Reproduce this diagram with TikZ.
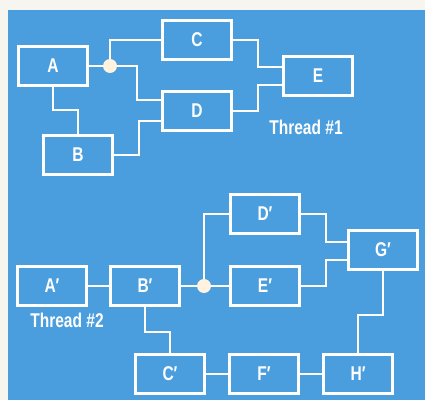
\documentclass[tikz,border=0pt]{standalone}
\usepackage{fontspec}
\usepackage{tikz}
\usetikzlibrary{calc}
\newfontfamily\boxfont[FakeStretch=0.78]{Liberation Sans Bold}
\definecolor{paper}{RGB}{246,245,240}
\definecolor{panel}{RGB}{74,158,222}
\definecolor{dotfill}{RGB}{255,242,222}

\begin{document}
\begin{tikzpicture}[x=0.03cm, y=-0.03cm,
	every node/.style={font=\boxfont\fontsize{17}{19}\selectfont, text=white},
	task/.style={draw=white, line width=1.8pt, minimum width=2.07cm, minimum height=1.17cm, inner sep=0pt},
	link/.style={draw=white, line width=1.7pt},
	fork/.style={circle, fill=dotfill, minimum size=0.42cm, inner sep=0pt}]
	\fill[paper] (0,0) rectangle (425,400);
	\fill[panel] (8,10) rectangle (425,400);
	% thread 1
	\node[task] (A) at (53,66) {A};
	\node[task] (C) at (197,40) {C};
	\node[task] (E) at (318,76) {E};
	\node[task] (D) at (197,111) {D};
	\node[task] (B) at (78,155) {B};
	\node[fork] (f1) at (110,66) {};
	\node (t1) at (306,127) {Thread \#1};
	\draw[link] (A) -- (f1);
	\draw[link] (f1) |- (C);
	\draw[link] (f1) -- ++(27,0) |- ([yshift=0.33cm]D.west);
	\draw[link] (C.east) -- ++(25,0) |- ([yshift=0.27cm]E.west);
	\draw[link] (D.east) -- ++(25,0) |- ([yshift=-0.27cm]E.west);
	\draw[link] (A.south) -- ++(0,23) -| (B.north);
	\draw[link] (B.east) -- ++(25,0) |- ([yshift=-0.3cm]D.west);
	% thread 2
	\node[task] (d2) at (265,214) {D′};
	\node[task] (g2) at (383,250) {G′};
	\node[task] (a2) at (52,286) {A′};
	\node[task] (b2) at (145,286) {B′};
	\node[task] (e2) at (265,286) {E′};
	\node[task] (c2) at (170,374) {C′};
	\node[task] (f2) at (264,374) {F′};
	\node[task] (h2) at (358,374) {H′};
	\node[fork] (k2) at (204,286) {};
	\node (t2) at (67,320) {Thread \#2};
	\draw[link] (a2) -- (b2);
	\draw[link] (b2) -- (k2) -- (e2);
	\draw[link] (k2) |- (d2);
	\draw[link] (d2.east) -- ++(25,0) |- ([yshift=0.24cm]g2.west);
	\draw[link] (e2.east) -- ++(25,0) |- ([yshift=-0.3cm]g2.west);
	\draw[link] (g2.south) -- ++(0,44) -| (h2.north);
	\draw[link] (b2.south) -- ++(0,25) -| (c2.north);
	\draw[link] (c2) -- (f2);
	\draw[link] (f2) -- (h2);
\end{tikzpicture}
\end{document}
